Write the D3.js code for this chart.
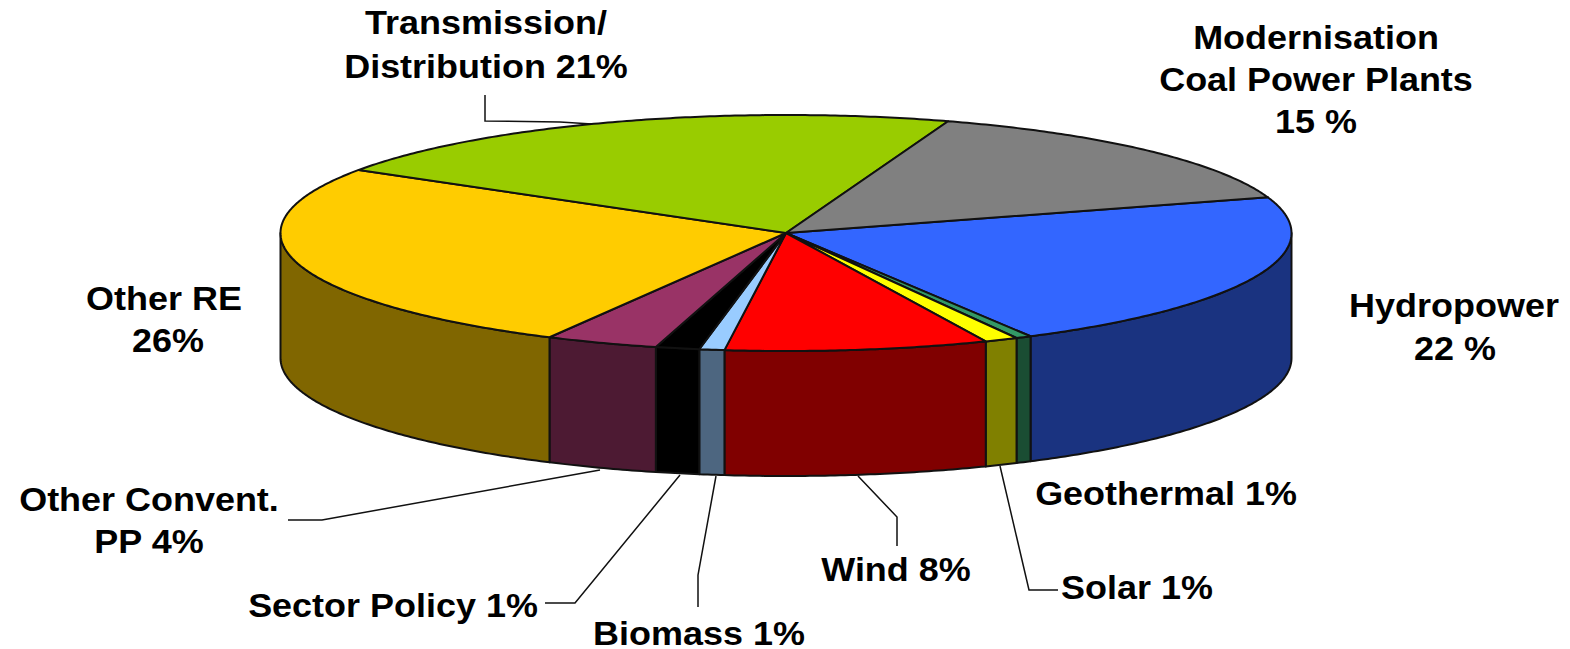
<!DOCTYPE html>
<html>
<head>
<meta charset="utf-8">
<script src="https://cdn.jsdelivr.net/npm/d3@7"></script>
<style>
  html, body { margin: 0; padding: 0; background: #fff; overflow: hidden; }
  text { font-family: "Liberation Sans", Arial, sans-serif; font-weight: bold; fill: #000; }
</style>
</head>
<body>
<div id="chart"></div>
<script>
// Slice sizes measured off the rim, clockwise from the hydropower slice.
// The printed labels are rounded, so these do not equal them exactly.
const categories = ["Hydropower", "Geothermal", "Solar", "Wind", "Biomass", "Sector Policy", "Other Convent. PP", "Other RE", "Transmission/Distribution", "Modernisation Coal Power Plants"];
const shares = [21.83, 0.5, 1.07, 8.4, 0.8, 1.4, 3.6, 26.2, 21.2, 14.9];

const width = 1570, height = 649;
const cx = 786, cy = 233, rx = 505.5, ry = 118, depth = 125;
const startDeg = 72.4;

const topColor = d3.scaleOrdinal().domain(categories)
  .range(["#3366ff", "#339966", "#ffff00", "#ff0000", "#99ccff", "#000000", "#993366", "#ffcc00", "#99cc00", "#808080"]);
const sideColor = d3.scaleOrdinal().domain(categories)
  .range(["#1a3380", "#1a4d33", "#808000", "#800000", "#4d6680", "#000000", "#4d1a33", "#806600", "#4d6600", "#404040"]);

const x = d3.scaleLinear().domain([-1, 1]).range([cx - rx, cx + rx]);
const y = d3.scaleLinear().domain([-1, 1]).range([cy - ry, cy + ry]);

const svg = d3.select("#chart").append("svg")
  .attr("width", width)
  .attr("height", height)
  .style("display", "block");

const start = startDeg * Math.PI / 180;
const pie = d3.pie().sort(null).startAngle(start).endAngle(start + 2 * Math.PI);
const slices = pie(shares).map((d, i) => ({ ...d, name: categories[i] }));

const rimPoint = (a, drop = 0) => [x(Math.sin(a)), y(-Math.cos(a)) + drop];
const line = d3.line();

// Sample an arc of the rim between two angles
const rim = (a0, a1, drop = 0) => {
  const n = Math.max(2, Math.ceil(Math.abs(a1 - a0) / 0.01));
  return d3.range(n + 1).map((i) => rimPoint(a0 + (a1 - a0) * i / n, drop));
};

// Side walls, only the part on the front half of the disc shows
slices.forEach((d) => {
  const a0 = Math.max(d.startAngle, Math.PI / 2);
  const a1 = Math.min(d.endAngle, 3 * Math.PI / 2);
  if (a1 <= a0) return;
  svg.append("path")
    .attr("d", line([...rim(a0, a1), ...rim(a1, a0, depth)]) + "Z")
    .attr("fill", sideColor(d.name))
    .attr("stroke", "#111")
    .attr("stroke-width", 2)
    .attr("stroke-linejoin", "round");
});

// Top faces
svg.append("g").selectAll("path")
  .data(slices)
  .join("path")
  .attr("d", (d) => line([[cx, cy], ...rim(d.startAngle, d.endAngle)]) + "Z")
  .attr("fill", (d) => topColor(d.name))
  .attr("stroke", "#111")
  .attr("stroke-width", 2)
  .attr("stroke-linejoin", "round");

// Leader lines from label to slice
const leaders = [
  [[485, 95], [485, 121], [560, 122], [592, 124]],
  [[858, 476], [897, 517], [897, 546]],
  [[1000, 466], [1029, 590], [1058, 590]],
  [[716, 476], [698, 575], [698, 607]],
  [[680, 475], [575, 603], [545, 603]],
  [[600, 470], [322, 520], [288, 520]],
];
svg.append("g").selectAll("path")
  .data(leaders)
  .join("path")
  .attr("d", (d) => line(d))
  .attr("fill", "none")
  .attr("stroke", "#111")
  .attr("stroke-width", 1.5);

const labels = [
  { text: "Transmission/", x: 486, y: 34 },
  { text: "Distribution 21%", x: 486, y: 78 },
  { text: "Modernisation", x: 1316, y: 49 },
  { text: "Coal Power Plants", x: 1316, y: 91 },
  { text: "15 %", x: 1316, y: 133 },
  { text: "Hydropower", x: 1454, y: 317 },
  { text: "22 %", x: 1455, y: 360 },
  { text: "Other RE", x: 164, y: 310 },
  { text: "26%", x: 168, y: 352 },
  { text: "Other Convent.", x: 149, y: 511 },
  { text: "PP 4%", x: 149, y: 553 },
  { text: "Geothermal 1%", x: 1166, y: 505 },
  { text: "Wind 8%", x: 896, y: 581 },
  { text: "Solar 1%", x: 1137, y: 599 },
  { text: "Sector Policy 1%", x: 393, y: 617 },
  { text: "Biomass 1%", x: 699, y: 645 },
];
// The reference lettering is slightly stretched sideways
svg.append("g").selectAll("text")
  .data(labels)
  .join("text")
  .attr("transform", (d) => `translate(${d.x}, ${d.y}) scale(1.09, 1)`)
  .attr("text-anchor", "middle")
  .attr("font-size", 33)
  .text((d) => d.text);
</script>
</body>
</html>
